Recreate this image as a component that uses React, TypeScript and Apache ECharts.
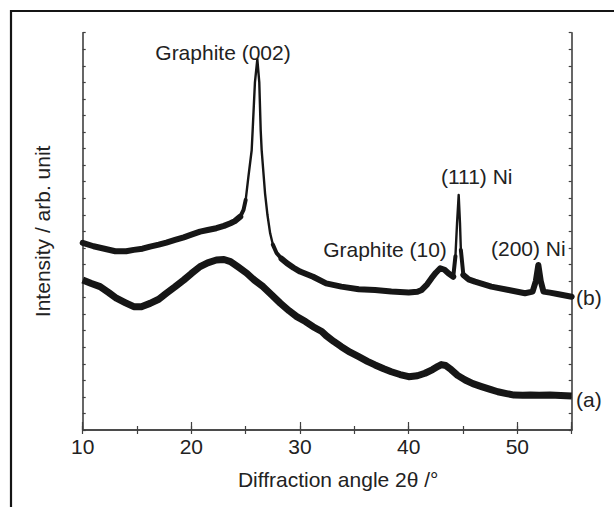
import React, { useEffect, useRef } from "react";
import * as echarts from "echarts";

// Diffraction angle 2θ (degrees) and intensity (arb. unit) for curve (b)
const bAngle = [
  10.0, 11.0, 12.0, 13.0, 14.0, 14.7, 15.5, 16.2, 17.0, 17.7, 18.5, 19.3, 20.0, 20.8, 21.5, 22.3, 23.0, 23.6, 24.0, 24.5,
  24.8, 25.0, 25.25, 25.55, 25.64, 25.85, 26.07, 26.25, 26.38, 26.47, 26.78, 27.0, 27.25, 27.5, 27.85, 28.3, 28.8, 29.4,
  30.0, 31.2, 32.4, 33.8, 35.4, 36.9, 38.4, 40.0, 40.8, 41.2, 41.7, 42.1, 42.5, 42.9, 43.3, 43.65, 44.1, 44.3, 44.45,
  44.6, 44.72, 44.8, 45.03, 45.5, 46.1, 47.6, 49.2, 50.7, 51.4, 51.7, 51.93, 52.15, 52.4, 53.0, 53.8, 55.0,
];
const bIntensity = [
  11.3, 11.1, 10.95, 10.8, 10.8, 10.88, 10.95, 11.08, 11.2, 11.32, 11.48, 11.64, 11.8, 11.98, 12.08, 12.19, 12.33, 12.49,
  12.62, 12.89, 13.3, 13.9, 15.3, 16.9, 18.1, 21.0, 22.4, 21.0, 18.1, 16.9, 14.3, 13.0, 11.88, 11.2, 10.68, 10.35, 10.07,
  9.8, 9.57, 9.26, 8.86, 8.66, 8.5, 8.46, 8.36, 8.3, 8.35, 8.46, 8.8, 9.17, 9.5, 9.77, 9.68, 9.47, 9.26, 10.5, 12.5, 14.2,
  12.5, 10.88, 9.37, 9.1, 8.96, 8.66, 8.46, 8.26, 8.36, 9.0, 9.97, 9.0, 8.36, 8.3, 8.2, 8.05,
];

// Curve (a)
const aAngle = [
  10.0, 10.8, 11.6, 12.4, 13.1, 13.9, 14.7, 15.4, 16.2, 17.0, 17.7, 18.5, 19.3, 20.0, 20.8, 21.5, 22.3, 23.0, 23.6, 24.3,
  25.1, 25.8, 26.6, 27.4, 28.2, 29.0, 29.7, 30.5, 31.2, 32.0, 32.4, 33.1, 33.8, 34.6, 35.4, 36.2, 36.9, 37.7, 38.4, 39.2,
  40.0, 40.8, 41.5, 42.2, 42.7, 43.0, 43.4, 43.9, 44.5, 45.2, 45.9, 46.7, 47.5, 48.2, 49.0, 49.7, 50.5, 51.2, 52.0, 53.0,
  54.0, 55.0,
];
const aIntensity = [
  9.06, 8.85, 8.66, 8.3, 7.96, 7.7, 7.45, 7.45, 7.65, 7.9, 8.26, 8.65, 9.06, 9.45, 9.87, 10.1, 10.27, 10.3, 10.17, 9.85,
  9.47, 9.05, 8.66, 8.15, 7.65, 7.2, 6.85, 6.55, 6.24, 5.95, 5.7, 5.35, 5.03, 4.7, 4.43, 4.15, 3.93, 3.7, 3.52, 3.35,
  3.22, 3.28, 3.43, 3.65, 3.85, 3.95, 3.9, 3.65, 3.3, 3.02, 2.8, 2.62, 2.45, 2.31, 2.2, 2.11, 2.1, 2.11, 2.1, 2.11,
  2.08, 2.05,
];

// Angle ranges of curve (b) and the stroke width used on each (noisy band vs sharp peak)
const bSegments: [number, number, number][] = [
  [10.0, 24.5, 6],
  [24.5, 25.0, 4],
  [25.0, 27.5, 2.4],
  [27.5, 28.3, 4],
  [28.3, 44.1, 6],
  [44.1, 44.3, 4],
  [44.3, 44.8, 2.4],
  [44.8, 45.03, 4],
  [45.03, 55.0, 6],
];

const xTickLabels = ["10", "20", "30", "40", "50"];
const xTitle = "Diffraction angle 2θ /°";
const yTitle = "Intensity / arb. unit";
const peakLabels = ["Graphite (002)", "(111) Ni", "Graphite (10)", "(200) Ni"];
const curveLabels = ["(b)", "(a)"];

const FONT = "'Liberation Sans', Arial, Helvetica, sans-serif";
const TXT = "#222";
const LINE = "#161616";

function pairs(xs: number[], ys: number[], lo: number, hi: number) {
  const out: [number, number][] = [];
  xs.forEach((x, i) => {
    if (x >= lo && x <= hi) out.push([x, ys[i]]);
  });
  return out;
}

export default function App() {
  const ref = useRef<HTMLDivElement>(null);
  useEffect(() => {
    if (!ref.current) return;
    const chart = echarts.init(ref.current, undefined, { renderer: "svg" });

    const bSeries = bSegments.map(([lo, hi, w]) => ({
      type: "line",
      name: "b",
      data: pairs(bAngle, bIntensity, lo, hi),
      showSymbol: false,
      lineStyle: { color: LINE, width: w, cap: "round", join: "round" },
      z: 3,
    }));

    const axisLine = { show: true, lineStyle: { color: "#404040", width: 1.6 } };
    const tickStyle = { color: "#404040", width: 1.2 };

    chart.setOption({
      animation: false,
      backgroundColor: "#fff",
      grid: { left: 82.7, right: 42.3, top: 32.7, bottom: 77 },
      xAxis: [
        {
          type: "value",
          position: "bottom",
          min: 10,
          max: 55,
          interval: 10,
          axisLine,
          axisTick: { show: true, inside: true, length: 8, lineStyle: tickStyle },
          splitLine: { show: false },
          axisLabel: {
            margin: 6,
            fontSize: 21,
            fontFamily: FONT,
            color: TXT,
            formatter: (v: number) => (xTickLabels.includes(String(v)) ? String(v) : ""),
          },
          name: xTitle,
          nameLocation: "middle",
          nameGap: 39,
          nameTextStyle: { fontSize: 21, fontFamily: FONT, color: TXT, padding: [0, 0, 0, 22] },
        },
        {
          type: "value",
          position: "top",
          min: 10,
          max: 55,
          interval: 5,
          axisLine,
          axisTick: { show: true, inside: true, length: 4, lineStyle: tickStyle },
          axisLabel: { show: false },
          splitLine: { show: false },
        },
        {
          type: "value",
          position: "bottom",
          min: 10,
          max: 55,
          interval: 5,
          axisLine: { show: false },
          axisTick: { show: true, inside: true, length: 4, lineStyle: tickStyle },
          axisLabel: { show: false },
          splitLine: { show: false },
        },
      ],
      yAxis: [
        {
          type: "value",
          position: "left",
          min: 0,
          max: 24,
          interval: 1,
          axisLine,
          axisTick: { show: true, inside: true, length: 3, lineStyle: tickStyle },
          axisLabel: { show: false },
          splitLine: { show: false },
          name: yTitle,
          nameLocation: "middle",
          nameGap: 30,
          nameTextStyle: { fontSize: 21, fontFamily: FONT, color: TXT },
        },
        {
          type: "value",
          position: "right",
          min: 0,
          max: 24,
          interval: 1,
          axisLine,
          axisTick: { show: true, inside: true, length: 3, lineStyle: tickStyle },
          axisLabel: { show: false },
          splitLine: { show: false },
        },
      ],
      series: [
        {
          type: "line",
          name: "a",
          data: pairs(aAngle, aIntensity, 10, 55),
          showSymbol: false,
          lineStyle: { color: LINE, width: 7, join: "round" },
          z: 3,
        },
        ...bSeries,
      ],
      graphic: [
        {
          type: "rect",
          shape: { x: 11, y: 11, width: 800, height: 700 },
          style: { fill: "none", stroke: "#151515", lineWidth: 2.2 },
          silent: true,
          z: 0,
        },
        ...[
          { t: peakLabels[0], x: 223, y: 52.7 },
          { t: peakLabels[1], x: 476.7, y: 176.7 },
          { t: peakLabels[2], x: 385, y: 249.3 },
          { t: peakLabels[3], x: 528.3, y: 248.3 },
        ].map((p) => ({
          type: "text",
          x: p.x,
          y: p.y,
          z: 10,
          style: {
            text: p.t,
            fontSize: 21,
            fontFamily: FONT,
            fill: TXT,
            align: "center",
            verticalAlign: "middle",
          },
        })),
        ...[
          { t: curveLabels[0], y: 297 },
          { t: curveLabels[1], y: 399 },
        ].map((p) => ({
          type: "text",
          x: 576,
          y: p.y,
          z: 10,
          style: {
            text: p.t,
            fontSize: 21,
            fontFamily: FONT,
            fill: TXT,
            align: "left",
            verticalAlign: "middle",
          },
        })),
      ],
    });
    return () => chart.dispose();
  }, []);

  return (
    <div
      ref={ref}
      style={{ position: "absolute", left: 0, top: 0, width: 614, height: 507, background: "#fff" }}
    />
  );
}
